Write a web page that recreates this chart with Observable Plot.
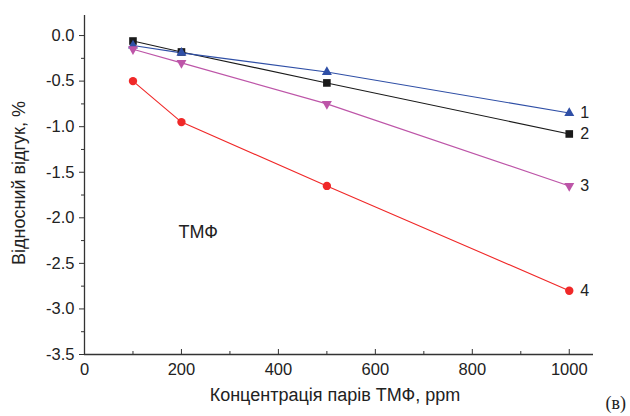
<!DOCTYPE html>
<html><head><meta charset="utf-8">
<script src="https://cdn.jsdelivr.net/npm/d3@7"></script>
<script src="https://cdn.jsdelivr.net/npm/@observablehq/plot@0.6"></script>
<style>body{margin:0;background:#fff;font-family:"Liberation Sans",Arial,sans-serif}</style>
</head><body><div id="chart"></div>
<script>
const conc = [100, 200, 500, 1000];
const s1 = [-0.11, -0.19, -0.40, -0.85];
const s2 = [-0.06, -0.18, -0.52, -1.08];
const s3 = [-0.15, -0.30, -0.75, -1.65];
const s4 = [-0.50, -0.95, -1.65, -2.80];
const seriesNames = ["1", "2", "3", "4"];
const seriesColors = ["#2f4fa6", "#1a1a1a", "#bd55a8", "#f02828"];
const seriesSymbols = ["triangle", "square", "triangle", "circle"];
const seriesRotate = [0, 0, 180, 0];
const seriesR = [3.7, 4.3, 3.7, 4.2];
const drawOrder = [1, 0, 2, 3];
const yTicks = [0, -0.5, -1, -1.5, -2, -2.5, -3, -3.5];
const yMinor = [-0.25, -0.75, -1.25, -1.75, -2.25, -2.75, -3.25];
const xTicks = [0, 200, 400, 600, 800, 1000];
const xMinor = [100, 300, 500, 700, 900];
const annotation = {text: "ТМФ", x: 194, y: -2.16};

const FONT = "'Liberation Sans', Arial, sans-serif";
const all = [s1, s2, s3, s4];
const series = all.map((vals, i) => conc.map((c, j) => ({x: c, y: vals[j], i})));

const marks = [];
drawOrder.forEach(i => {
  marks.push(Plot.line(series[i], {x: "x", y: "y", stroke: seriesColors[i], strokeWidth: 1.1}));
});
drawOrder.forEach(i => {
  const data = series[i];
  marks.push(Plot.dot(data, {x: "x", y: "y", fill: seriesColors[i], stroke: "none", symbol: () => seriesSymbols[i], r: seriesR[i], rotate: seriesRotate[i]}));
  marks.push(Plot.text([data[data.length - 1]], {x: "x", y: "y", text: () => seriesNames[i], dx: 11, textAnchor: "start", fontSize: 16, fontFamily: FONT, fill: "#222"}));
});

const plot = Plot.plot({
  width: 630, height: 416,
  marginLeft: 84, marginRight: 37, marginTop: 15, marginBottom: 62,
  style: {fontFamily: FONT, background: "#fff", color: "#222"},
  x: {domain: [0, 1050]},
  y: {domain: [-3.5, 0.22]},
  marks: [
    Plot.axisY(yTicks, {tickSize: 5, tickFormat: d => d.toFixed(1), fontSize: 16.5, fontFamily: FONT, label: null, tickPadding: 5, stroke: "#333"}),
    Plot.axisY(yMinor, {tickSize: 3, tickFormat: () => "", label: null, stroke: "#333"}),
    Plot.axisX(xTicks, {tickSize: -5, tickPadding: 14, tickFormat: d => String(d), fontSize: 16.5, fontFamily: FONT, label: null, stroke: "#333"}),
    Plot.axisX(xMinor, {tickSize: -3, tickFormat: () => "", label: null, stroke: "#333"}),
    Plot.ruleX([0], {stroke: "#333", strokeWidth: 1.3}),
    Plot.ruleY([-3.5], {stroke: "#333", strokeWidth: 1.3}),
    ...marks,
    Plot.text([annotation], {x: "x", y: "y", text: "text", textAnchor: "start", fontSize: 18, fontFamily: FONT, fill: "#222"}),
    Plot.text(["Концентрація парів ТМФ, ppm"], {frameAnchor: "bottom", textAnchor: "middle", dx: -4, dy: 46, fontSize: 18, fontFamily: FONT, fill: "#222"}),
    Plot.text(["Відносний відгук, %"], {frameAnchor: "left", textAnchor: "middle", dx: -65, dy: -2, rotate: -90, fontSize: 18, fontFamily: FONT, fill: "#222"}),
    Plot.text(["(в)"], {frameAnchor: "bottom-right", textAnchor: "start", dx: 12, dy: 54, fontSize: 18, fontFamily: "'Liberation Serif', serif", fill: "#222"})
  ]
});
document.getElementById("chart").appendChild(plot);
</script></body></html>
